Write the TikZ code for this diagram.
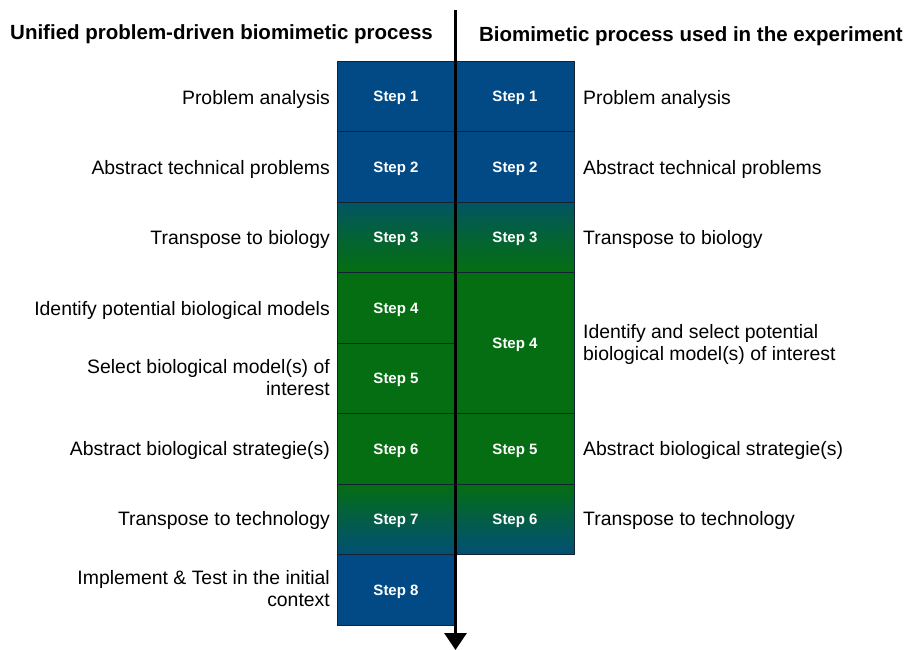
\documentclass[tikz,border=0pt]{standalone}
\usepackage{fontspec}
\setmainfont{Liberation Sans}
\usetikzlibrary{arrows.meta}
\definecolor{stepblue}{RGB}{1,74,134}
\definecolor{stepgreen}{RGB}{5,110,18}
\definecolor{edgecol}{RGB}{20,35,50}
\tikzset{
  stepbox/.style={draw=edgecol, line width=0.6pt, rectangle, minimum width=118pt, inner sep=0pt,
     text height=11pt, text depth=0pt,
     text=white, font=\fontsize{15}{17}\bfseries\selectfont},
  hrow/.style={minimum height=70.5pt},
  hrowtwo/.style={minimum height=141pt},
  bluebox/.style={fill=stepblue},
  greenbox/.style={fill=stepgreen},
  bgshade/.style={top color=stepblue!70!stepgreen, bottom color=stepgreen, middle color=stepgreen!70!stepblue},
  gbshade/.style={top color=stepgreen, bottom color=stepblue!85!stepgreen, middle color=stepgreen!55!stepblue},
  leftlab/.style={anchor=east, align=right, inner sep=0pt, font=\fontsize{19.4}{22}\selectfont},
  rightlab/.style={anchor=west, align=left, inner sep=0pt, font=\fontsize{19.4}{22}\selectfont},
  titlelab/.style={inner sep=0pt, font=\fontsize{20.5}{23}\bfseries\selectfont},
  flowarrow/.style={line width=3.2pt, -{Triangle[width=22pt,length=17pt]}}
}
\begin{document}
\begin{tikzpicture}[x=1pt,y=-1pt]
\useasboundingbox (0,0) rectangle (908,650);
% titles
\node[titlelab, anchor=west] (tl) at (10,34) {Unified problem-driven biomimetic process};
\node[titlelab, anchor=east] (tr) at (903,36) {Biomimetic process used in the experiment};
% left column
\node[stepbox, hrow, bluebox] (L1) at (396,96.25) {Step 1};
\node[stepbox, hrow, bluebox] (L2) at (396,166.75) {Step 2};
\node[stepbox, hrow, bgshade] (L3) at (396,237.25) {Step 3};
\node[stepbox, hrow, greenbox] (L4) at (396,307.75) {Step 4};
\node[stepbox, hrow, greenbox] (L5) at (396,378.25) {Step 5};
\node[stepbox, hrow, greenbox] (L6) at (396,448.75) {Step 6};
\node[stepbox, hrow, gbshade] (L7) at (396,519.25) {Step 7};
\node[stepbox, hrow, bluebox] (L8) at (396,589.75) {Step 8};
% right column
\node[stepbox, hrow, bluebox] (R1) at (515,96.25) {Step 1};
\node[stepbox, hrow, bluebox] (R2) at (515,166.75) {Step 2};
\node[stepbox, hrow, bgshade] (R3) at (515,237.25) {Step 3};
\node[stepbox, hrowtwo, greenbox] (R4) at (515,343) {Step 4};
\node[stepbox, hrow, greenbox] (R5) at (515,448.75) {Step 5};
\node[stepbox, hrow, gbshade] (R6) at (515,519.25) {Step 6};
% left labels
\node[leftlab] (la1) at (330,99) {Problem analysis};
\node[leftlab] (la2) at (330,169) {Abstract technical problems};
\node[leftlab] (la3) at (330,239) {Transpose to biology};
\node[leftlab] (la4) at (330,310) {Identify potential biological models};
\node[leftlab] (la5) at (330,378) {Select biological model(s) of\\interest};
\node[leftlab] (la6) at (330,450) {Abstract biological strategie(s)};
\node[leftlab] (la7) at (330,520) {Transpose to technology};
\node[leftlab] (la8) at (330,589) {Implement \& Test in the initial\\context};
% right labels
\node[rightlab] (ra1) at (583,99) {Problem analysis};
\node[rightlab] (ra2) at (583,169) {Abstract technical problems};
\node[rightlab] (ra3) at (583,239) {Transpose to biology};
\node[rightlab] (ra4) at (583,344) {Identify and select potential\\biological model(s) of interest};
\node[rightlab] (ra6) at (583,450) {Abstract biological strategie(s)};
\node[rightlab] (ra7) at (583,520) {Transpose to technology};
% arrow
\coordinate (atop) at (455.5,10);
\coordinate (abot) at (455.5,650);
\draw[flowarrow] (atop) -- (abot);
\end{tikzpicture}
\end{document}
